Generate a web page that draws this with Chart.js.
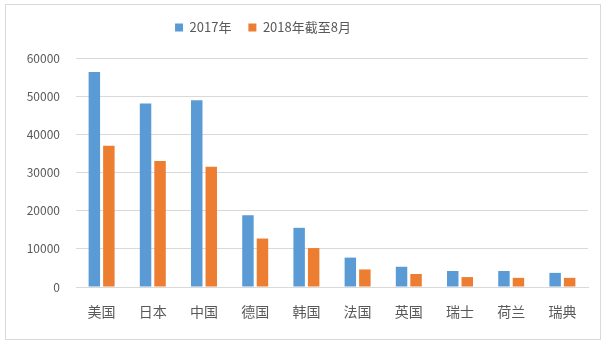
<!DOCTYPE html>
<html>
<head>
<meta charset="utf-8">
<script src="https://cdn.jsdelivr.net/npm/chart.js@4"></script>
<style>
  body { margin: 0; background: #fff; }
  #box { position: absolute; left: 5px; top: 4px; width: 594px; height: 334px; border: 1px solid #d9d9d9; }
  canvas { display: block; }
</style>
</head>
<body>
<div id="box"><canvas id="barChart" width="594" height="334"></canvas></div>
<script>
const countries = ['美国', '日本', '中国', '德国', '韩国', '法国', '英国', '瑞士', '荷兰', '瑞典'];
const values2017 = [56300, 48100, 48900, 18800, 15500, 7700, 5300, 4200, 4200, 3700];
const values2018 = [37000, 33000, 31500, 12700, 10200, 4600, 3400, 2600, 2400, 2400];
const yTicks = [0, 10000, 20000, 30000, 40000, 50000, 60000];

const textColor = '#595959';
const fontFamily = '"Noto Sans CJK SC", "Noto Sans", sans-serif';

// legend sits left of centre and close to the top in the original
const legendShift = {
    id: 'legendShift',
    afterLayout(chart) {
        const lg = chart.legend;
        lg.left -= 34;
        lg.right -= 34;
        lg.top -= 14;
        lg.bottom -= 14;
    }
};

const ctx = document.getElementById('barChart').getContext('2d');
const chart = new Chart(ctx, {
    type: 'bar',
    data: {
        labels: countries,
        datasets: [{
            label: '2017年',
            data: values2017,
            backgroundColor: '#5B9BD5',
            categoryPercentage: 0.567,
            barPercentage: 0.79
        }, {
            label: '2018年截至8月',
            data: values2018,
            backgroundColor: '#ED7D31',
            categoryPercentage: 0.567,
            barPercentage: 0.79
        }]
    },
    options: {
        responsive: false,
        animation: false,
        layout: { padding: { left: 0, right: 12, top: 13, bottom: 0 } },
        plugins: {
            legend: {
                position: 'top',
                labels: {
                    boxWidth: 8,
                    boxHeight: 8,
                    padding: 17,
                    color: textColor,
                    font: { family: fontFamily, size: 13 }
                }
            },
            tooltip: { enabled: false }
        },
        scales: {
            x: {
                grid: { display: false, drawTicks: false },
                border: { color: '#d9d9d9' },
                ticks: {
                    color: textColor,
                    padding: 16,
                    font: { family: fontFamily, size: 14 }
                },
                afterFit: scale => { scale.height = 52; }
            },
            y: {
                min: 0,
                max: 60000,
                grid: { color: '#d9d9d9', drawTicks: false },
                border: { display: false },
                afterBuildTicks: scale => { scale.ticks = yTicks.map(v => ({ value: v })); },
                ticks: {
                    color: textColor,
                    padding: 16,
                    font: { family: fontFamily, size: 12 },
                    callback: v => String(v)
                },
                afterFit: scale => { scale.width = 70; }
            }
        }
    },
    plugins: [legendShift]
});
</script>
</body>
</html>
